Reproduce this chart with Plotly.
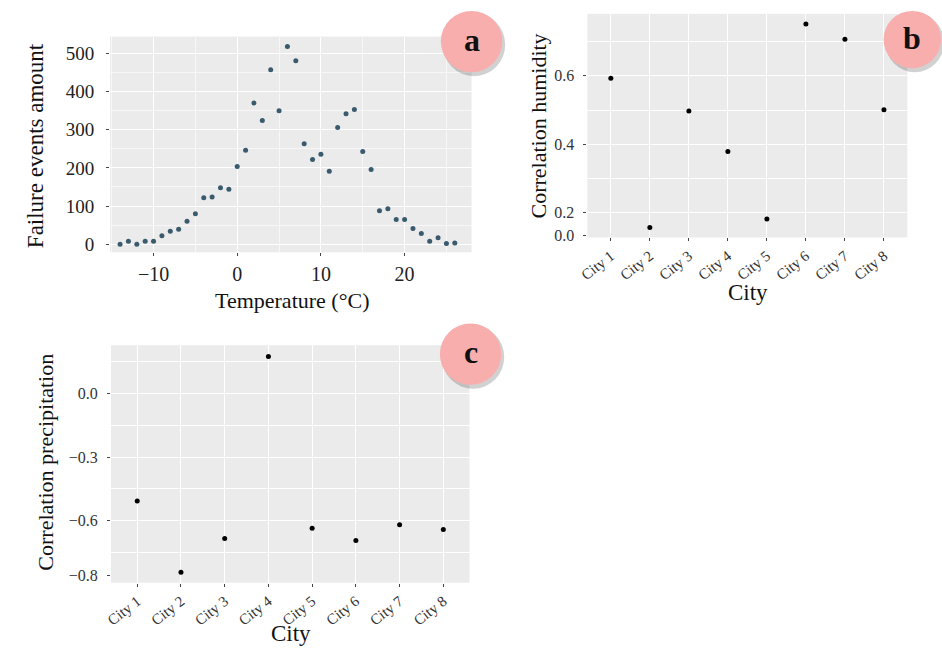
import plotly.graph_objects as go

# ---------------- data ----------------
temperature = list(range(-14, 27))
failure_events = [0, 8, 0, 8, 8, 22, 34, 39, 60, 80,
                  122, 124, 148, 144, 204, 246, 370, 324, 457, 350,
                  518, 481, 263, 222, 236, 191, 306, 342, 353, 243,
                  196, 88, 93, 65, 65, 41, 28, 8, 17, 2, 3]

cities = ["City 1", "City 2", "City 3", "City 4", "City 5", "City 6", "City 7", "City 8"]
corr_humidity = [0.593, 0.157, 0.497, 0.379, 0.182, 0.751, 0.707, 0.501]
corr_precip = [-0.507, -0.844, -0.684, 0.176, -0.636, -0.694, -0.619, -0.642]

# tick labels as printed on the figure
hum_tickvals = [0.133, 0.2, 0.4, 0.6]
hum_ticktext = ["0.0", "0.2", "0.4", "0.6"]
pre_tickvals = [-0.857, -0.6, -0.3, 0.0]
pre_ticktext = ["\u22120.8", "\u22120.6", "\u22120.3", "0.0"]

W, H = 942, 653
def px(x): return x / W
def py(y): return 1 - y / H

SERIF = "Liberation Serif, Times New Roman, serif"
BG = "#ebebeb"

fig = go.Figure()
fig.add_trace(go.Scatter(x=temperature, y=failure_events, mode="markers",
                         marker=dict(size=5, color="#3a5a6d"),
                         xaxis="x", yaxis="y", showlegend=False))
fig.add_trace(go.Scatter(x=cities, y=corr_humidity, mode="markers",
                         marker=dict(size=5, color="black"),
                         xaxis="x2", yaxis="y2", showlegend=False))
fig.add_trace(go.Scatter(x=cities, y=corr_precip, mode="markers",
                         marker=dict(size=5, color="black"),
                         xaxis="x3", yaxis="y3", showlegend=False))

common = dict(showline=False, zeroline=False, ticks="outside", ticklen=3,
              tickcolor="#444", gridcolor="white")

fig.update_layout(
    width=W, height=H, margin=dict(l=0, r=0, t=0, b=0),
    paper_bgcolor="white", plot_bgcolor=BG,
    font=dict(family=SERIF, color="#222"),
    xaxis=dict(domain=[px(102), px(467)], anchor="y", range=[-15.2, 28.0],
               tickvals=[-10, 0, 10, 20], ticktext=["\u221210", "0", "10", "20"],
               gridwidth=1.2, tickfont=dict(size=20, color="#222"),
               minor=dict(tickvals=[-15, -5, 5, 15, 25], showgrid=True,
                          gridcolor="#f7f7f7", gridwidth=0.6, ticks=""),
               ticklabelstandoff=1, **common),
    yaxis=dict(domain=[py(255), py(37)], anchor="x", range=[-21, 544],
               tickvals=[0, 100, 200, 300, 400, 500],
               gridwidth=1.2, tickfont=dict(size=19, color="#222"),
               minor=dict(tickvals=[50, 150, 250, 350, 450], showgrid=True,
                          gridcolor="#f7f7f7", gridwidth=0.6, ticks=""),
               ticklabelstandoff=8, **common),
    xaxis2=dict(domain=[px(584), px(907)], anchor="y2", type="category",
                range=[-0.6, 7.6], gridwidth=1.1, tickangle=-38,
                tickfont=dict(size=15, color="#333"), ticklabelstandoff=0, **common),
    yaxis2=dict(domain=[py(240), py(14)], anchor="x2", range=[0.128, 0.781],
                tickvals=hum_tickvals, ticktext=hum_ticktext, showgrid=False,
                tickfont=dict(size=16, color="#333"), ticklabelstandoff=6,
                minor=dict(tickvals=[0.2, 0.3, 0.4, 0.5, 0.6, 0.7], showgrid=True,
                           gridcolor="white", gridwidth=1, ticks=""),
                **common),
    xaxis3=dict(domain=[px(103), px(465)], anchor="y3", type="category",
                range=[-0.6, 7.6], gridwidth=1.1, tickangle=-38,
                tickfont=dict(size=15, color="#333"), ticklabelstandoff=0, **common),
    yaxis3=dict(domain=[py(589), py(349)], anchor="x3", range=[-0.893, 0.229],
                tickvals=pre_tickvals, ticktext=pre_ticktext, showgrid=False,
                tickfont=dict(size=16, color="#333"), ticklabelstandoff=6,
                minor=dict(tickvals=[0.15, 0.0, -0.15, -0.3, -0.45, -0.6, -0.75],
                           showgrid=True, gridcolor="white", gridwidth=1, ticks=""),
                **common),
)

# axis titles
titles = [
    ("Failure events amount", 27, 147, -90, 23),
    ("Temperature (\u00b0C)", 286, 304, 0, 22),
    ("Correlation humidity", 535, 127, -90, 22),
    ("City", 746, 296, 0, 23),
    ("Correlation precipitation", 37, 467, -90, 22),
    ("City", 285, 640, 0, 23),
]
for text, x, y, ang, size in titles:
    fig.add_annotation(text=text, x=px(x), y=py(y), xref="paper", yref="paper",
                       xanchor="center", yanchor="middle", showarrow=False,
                       textangle=ang, font=dict(family=SERIF, size=size, color="#111"))

# badges
badges = [("a", 467, 42, 31), ("b", 912, 40, 29), ("c", 466, 358, 31)]
for letter, cx, cy, r in badges:
    fig.add_shape(type="circle", xref="paper", yref="paper",
                  x0=px(cx - r + 2), x1=px(cx + r + 3), y0=py(cy + r + 4), y1=py(cy - r + 2),
                  fillcolor="rgba(0,0,0,0.18)", line=dict(width=0))
    fig.add_shape(type="circle", xref="paper", yref="paper",
                  x0=px(cx - r), x1=px(cx + r), y0=py(cy + r), y1=py(cy - r),
                  fillcolor="#f9aeae", line=dict(width=0))
    fig.add_annotation(text="<b>%s</b>" % letter, x=px(cx), y=py(cy - 2),
                       xref="paper", yref="paper", showarrow=False,
                       xanchor="center", yanchor="middle",
                       font=dict(family=SERIF, size=32, color="#111"))

# remove the default page margin so the figure fills the window exactly
fig.write_html("out.html", config={"displayModeBar": False},
               post_script="document.body.style.margin='0';"
                           "document.documentElement.style.overflow='hidden';")
